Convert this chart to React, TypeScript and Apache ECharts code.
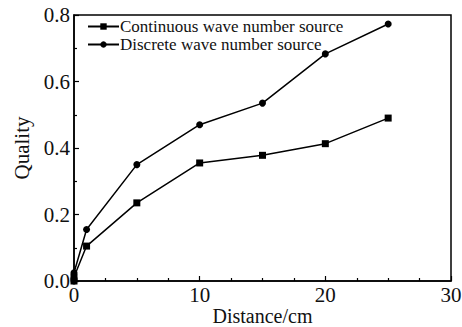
import React, { useEffect, useRef } from "react";
import * as echarts from "echarts";

const continuousData: [number, number][] = [
  [0, 0.0], [0, 0.012], [1, 0.105], [5, 0.235], [10, 0.355], [15, 0.378], [20, 0.413], [25, 0.49],
];
const discreteData: [number, number][] = [
  [0, 0.0], [0, 0.025], [1, 0.155], [5, 0.35], [10, 0.47], [15, 0.535], [20, 0.683], [25, 0.773],
];
const seriesNames = ["Continuous wave number source", "Discrete wave number source"];
const xTitle = "Distance/cm";
const yTitle = "Quality";

const FONT = "Liberation Serif";

export default function App() {
  const ref = useRef<HTMLDivElement>(null);
  useEffect(() => {
    if (!ref.current) return;
    const chart = echarts.init(ref.current, undefined, { renderer: "svg" });
    chart.setOption({
      animation: false,
      backgroundColor: "#fff",
      textStyle: { fontFamily: FONT },
      grid: {
        left: 74, right: 11, top: 15, bottom: 46,
        outerBoundsMode: "none",
        containLabel: false,
        show: true, borderColor: "#000", borderWidth: 1.5,
      },
      legend: {
        orient: "vertical",
        left: 82,
        top: 13,
        itemGap: 1,
        itemWidth: 31,
        itemHeight: 8,
        textStyle: { fontFamily: FONT, fontSize: 17, lineHeight: 16, color: "#111", padding: [0, 0, 0, -4] },
        data: seriesNames,
      },
      xAxis: {
        type: "value",
        min: 0,
        max: 30,
        interval: 10,
        name: xTitle,
        nameLocation: "middle",
        nameGap: 25,
        nameMoveOverlap: false,
        nameTextStyle: { fontFamily: FONT, fontSize: 20, lineHeight: 20, color: "#111" },
        axisLine: { onZero: false, lineStyle: { color: "#000", width: 1.5 } },
        axisTick: { inside: true, length: 5, lineStyle: { color: "#000", width: 1.2 } },
        minorTick: { show: true, splitNumber: 4, length: 3, lineStyle: { color: "#000", width: 1.2 } },
        axisLabel: { fontFamily: FONT, fontSize: 21, color: "#111", margin: 3 },
        splitLine: { show: false },
      },
      yAxis: {
        type: "value",
        min: 0,
        max: 0.8,
        interval: 0.2,
        name: yTitle,
        nameLocation: "middle",
        nameGap: 40,
        nameTextStyle: { fontFamily: FONT, fontSize: 21, color: "#111" },
        axisLine: { onZero: false, lineStyle: { color: "#000", width: 1.5 } },
        axisTick: { inside: true, length: 5, lineStyle: { color: "#000", width: 1.2 } },
        minorTick: { show: true, splitNumber: 2, length: 3, lineStyle: { color: "#000", width: 1.2 } },
        axisLabel: { fontFamily: FONT, fontSize: 21, color: "#111", margin: 4, formatter: (v: number) => v.toFixed(1) },
        splitLine: { show: false },
      },
      series: [
        {
          name: seriesNames[0],
          type: "line",
          data: continuousData,
          symbol: "rect",
          symbolSize: 7,
          itemStyle: { color: "#000" },
          lineStyle: { color: "#000", width: 1.5 },
        },
        {
          name: seriesNames[1],
          type: "line",
          data: discreteData,
          symbol: "circle",
          symbolSize: 7,
          itemStyle: { color: "#000" },
          lineStyle: { color: "#000", width: 1.5 },
        },
      ],
    });
    return () => chart.dispose();
  }, []);
  return (
    <div
      ref={ref}
      style={{ position: "absolute", left: 0, top: 0, width: 462, height: 327 }}
    />
  );
}
